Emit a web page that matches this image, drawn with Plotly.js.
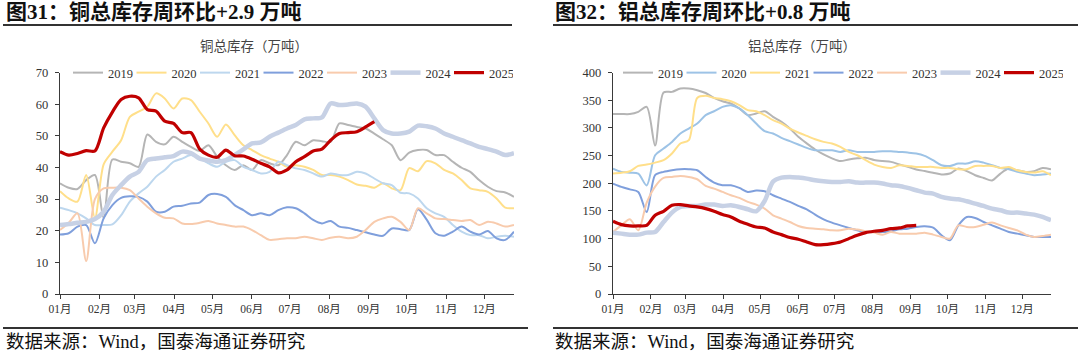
<!DOCTYPE html>
<html><head><meta charset="utf-8">
<script src="https://cdn.plot.ly/plotly-3.0.1.min.js"></script>
<style>html,body{margin:0;padding:0;background:#fff;}#chart{width:1080px;height:354px;}</style>
</head><body><div id="chart"></div>
<script>
// ---------- data ----------
const years = ['2019','2020','2021','2022','2023','2024','2025'];
const monthLabels = ['01月','02月','03月','04月','05月','06月','07月','08月','09月','10月','11月','12月'];

const titleCu = '<b>图31：铜总库存周环比+2.9 万吨</b>';
const titleAl = '<b>图32：铝总库存周环比+0.8 万吨</b>';
const subCu = '铜总库存（万吨）';
const subAl = '铝总库存（万吨）';
const sourceText = '数据来源：Wind，国泰海通证券研究';

// copper total inventory (10k t), weekly
const cu2019 = [35.0,33.6,33.2,36.0,37.6,24.0,42.5,41.8,41.3,40.2,50.4,48.1,47.3,49.7,48.1,46.5,45.2,47.0,43.4,40.7,39.2,40.7,39.2,42.3,41.3,40.7,43.9,48.1,47.0,48.6,48.3,48.1,53.9,53.4,52.8,52.3,50.7,48.9,47.0,42.3,44.7,45.5,45.5,43.9,43.9,41.8,39.9,38.6,36.0,33.9,32.5,32.1,30.7];
const cu2020 = [32.5,30.2,29.2,37.6,24.0,41.0,45.0,48.6,56.0,57.6,59.2,63.4,61.8,58.6,61.8,61.3,57.6,53.9,49.7,53.6,50.2,47.0,45.5,43.9,42.8,41.8,40.2,40.7,40.2,39.2,37.6,37.6,37.1,36.0,34.6,34.2,33.6,35.0,33.4,32.8,39.8,38.8,42.0,41.3,39.2,38.1,36.0,33.4,32.8,32.3,30.2,27.3,27.1];
const cu2021 = [27.3,26.5,25.5,23.9,21.8,21.8,22.0,24.9,29.2,31.8,33.9,37.1,39.2,41.8,42.8,43.9,42.8,41.3,40.2,41.8,42.3,40.2,39.2,38.1,38.6,41.8,40.7,39.7,39.2,38.1,37.1,38.1,37.6,37.6,38.6,38.1,36.5,35.0,34.4,32.0,31.8,30.2,27.1,25.5,24.4,21.8,19.7,18.6,18.6,17.6,18.1,18.4,18.1];
const cu2022 = [18.8,19.2,21.3,21.8,16.0,23.9,28.1,30.4,30.9,30.7,29.2,26.0,26.0,27.6,27.9,28.6,28.9,31.3,31.6,30.7,28.1,26.5,24.9,25.5,24.9,26.5,27.4,27.1,25.5,23.4,22.3,23.1,21.3,20.9,20.2,19.5,18.8,18.4,20.7,20.5,20.2,26.8,23.5,19.2,18.4,19.7,21.3,19.7,18.8,19.9,17.6,17.1,19.7];
const cu2023 = [20.2,22.5,25.5,10.4,30.0,33.4,33.6,33.6,32.8,30.2,27.6,25.5,24.1,23.9,22.3,22.1,22.5,23.1,22.3,21.8,21.3,21.3,20.2,18.6,17.1,17.3,17.6,17.6,18.1,17.6,17.1,17.8,18.1,17.6,18.1,20.2,22.8,23.9,24.4,22.8,20.2,27.1,25.5,23.9,23.7,23.4,23.1,23.4,21.8,22.8,22.3,21.3,21.8];
const cu2024 = [21.8,22.1,22.5,22.8,23.7,26.0,31.3,34.4,37.1,38.6,42.3,42.8,43.2,43.6,45.0,44.5,42.8,42.2,41.8,42.3,43.9,45.7,47.6,47.9,49.7,51.0,52.3,53.4,55.2,55.5,55.8,60.2,59.7,59.9,60.2,59.2,55.5,51.8,50.7,50.7,51.3,53.2,53.0,52.3,50.7,49.7,48.6,47.6,46.5,45.8,45.0,43.9,44.5];
const cu2025 = [45.0,43.9,44.4,45.3,45.2,52.5,57.5,61.5,62.5,62.0,58.3,57.8,54.6,53.9,51.0,51.0,45.8,43.9,43.2,45.5,43.7,43.6,42.6,41.3,40.2,38.3,39.2,41.8,43.4,45.2,45.8,48.6,50.7,51.0,51.3,52.8,54.5];

// aluminium total inventory (10k t), weekly
const al2019 = [325,325,325,329,338,268,364,365,371,371,368,363,354,348,344,335,323,326,330,320,311,299,284,272,261,252,245,240,243,245,246,242,240,238.6,234,229.5,225,222,219,216,217.5,226.5,222,214.5,209.6,205,217.5,226.5,223.5,220.5,221.7,227.7,225];
const al2020 = [226.5,220.5,219,217.5,196,250.6,262.6,274.7,289.8,298.8,307.8,323,330,338,341,335,323,307.8,294,289.8,282,276,270,263.9,259.6,259.6,259.6,256.6,259.6,256.6,256.6,256.6,257.8,257.8,256.6,255.4,253.6,249.4,241.6,232.5,231.3,235.5,235.5,239.8,237.3,232.5,227.7,225.3,220.5,217.5,214.5,215.7,217.5];
const al2021 = [217.5,219,221.7,231.3,233.7,237.3,241.6,253.6,271.7,277.7,354,357.8,354,351.8,348,341,332,330,323,313.9,307.8,298.8,291.6,285.5,279.5,274.7,271.7,265.7,256.6,250.6,241.6,233.7,229.5,227.7,232.5,231.3,229.5,229.5,229.5,227.7,227.7,225.3,225.3,231.3,231.3,231.3,227.7,229.5,223.5,220.5,219.3,221.7,214.5];
const al2022 = [199.4,193.4,189,184.3,148,214.5,220.5,223.5,225.3,225.3,223.5,211.4,201.2,196.4,196.4,191.6,184.3,187,185.5,178.3,172.3,166.3,159,153,143.4,134.9,128.9,124,119.3,115,112,112,112,113,116.9,118,121,122.3,119.9,106,97,124,139,137.3,130,124,118,112,109,106,103,103,103];
const al2023 = [112,124,135,115,165,194,209.6,211.4,213.2,211.4,207.2,195.2,190.4,184.3,178.3,173.5,166.3,161.5,154.2,142.2,136.1,130.1,122.9,119.3,118,116.9,115,115,118,116.3,113.3,110.8,107.2,112,109,109,109,110.8,107.2,103,100,124,121,121,125,129,124,119.3,115,107.2,103,104.8,107.2];
const al2024 = [110.8,109,107.2,107.2,110.8,112,130,147,157.2,159,159,161.5,161.5,159,160.2,157.2,153,149.4,168,203,210.2,211.4,210.2,208.4,205.4,203.6,202.4,202.4,203.6,201.2,201.2,201.2,199.4,196.4,195.2,191.6,187.3,183.1,181.3,175.3,172.3,171,167.5,163.2,159,154.2,151.2,147,147,145.2,143.4,139.2,133.1];
const al2025 = [131.3,125.3,122.9,122.9,124,142.2,149.4,160.2,161.5,159,157.2,154.2,149.4,143.4,139.2,131.3,125.9,121,119.3,112,107.2,102,99,94,89.2,89.2,91,94,100,106,110.8,113.3,115,118,119.3,122.9,124];

const cuSeries = [cu2019, cu2020, cu2021, cu2022, cu2023, cu2024, cu2025];
const alSeries = [al2019, al2020, al2021, al2022, al2023, al2024, al2025];

// ---------- styles ----------
const W = 1080, H = 354;
const FONT = '"Liberation Serif", "Noto Sans CJK SC", serif';
const GRAY = '#B5B5B5', YEL = '#FFDF8A', LBLUE = '#BDD7EE', LBLUE2 = '#9DC3E6', BLUE = '#7F9FDC', PEACH = '#F8CBAD', STEEL = '#C7D1E5', RED = '#C00000';
const cuColors = [GRAY, YEL, LBLUE, BLUE, PEACH, STEEL, RED];
const alColors = [GRAY, LBLUE2, YEL, BLUE, PEACH, STEEL, RED];
const widths = [2, 2, 2, 2, 2, 4.5, 3.2];

const SPAN = 357.4;               // days covered by the axis (Jan 1 .. ~Dec 24)
const weekX = n => Array.from({length: n}, (_, i) => i * SPAN / 52);
const monthStarts = Array.from({length: 12}, (_, m) => (Date.UTC(2021, m, 1) - Date.UTC(2021, 0, 1)) / 864e5);

const px = x => x / W;
const py = y => 1 - y / H;

const traces = [];
years.forEach((yr, k) => {
  traces.push({
    x: weekX(cuSeries[k].length), y: cuSeries[k], name: yr, type: 'scatter', mode: 'lines',
    line: {color: cuColors[k], width: widths[k], shape: 'spline', smoothing: 0.8},
    xaxis: 'x', yaxis: 'y', legend: 'legend', hoverinfo: 'skip'
  });
});
years.forEach((yr, k) => {
  traces.push({
    x: weekX(alSeries[k].length), y: alSeries[k], name: yr, type: 'scatter', mode: 'lines',
    line: {color: alColors[k], width: widths[k], shape: 'spline', smoothing: 0.8},
    xaxis: 'x2', yaxis: 'y2', legend: 'legend2', hoverinfo: 'skip'
  });
});

const axisCommon = {
  showline: true, linecolor: '#3a3a3a', linewidth: 1.3, mirror: false,
  ticks: 'outside', ticklen: 4, tickwidth: 1, tickcolor: '#3a3a3a',
  showgrid: false, zeroline: false, fixedrange: true,
  tickfont: {family: FONT, size: 12.5, color: '#333'}
};
const xCommon = Object.assign({}, axisCommon, {
  type: 'linear', range: [0, SPAN], tickmode: 'array', tickvals: monthStarts, ticktext: monthLabels,
  tickfont: {family: FONT, size: 11.5, color: '#333'}
});
const yDomain = [py(294), py(72.5)];

const legendCommon = {
  orientation: 'h', xanchor: 'left', yanchor: 'middle', y: py(73),
  font: {family: FONT, size: 12.5, color: '#333'}, bgcolor: 'rgba(0,0,0,0)',
  borderwidth: 0, itemwidth: 30, entrywidth: 18.5, entrywidthmode: 'pixels',
  itemclick: false, itemdoubleclick: false, traceorder: 'normal'
};

const ann = (text, x, y, size, opts) => Object.assign({
  text: text, xref: 'paper', yref: 'paper', x: px(x), y: py(y), showarrow: false,
  xanchor: 'left', yanchor: 'middle', font: {family: FONT, size: size, color: '#111'}
}, opts || {});

const layout = {
  width: W, height: H, margin: {l: 0, r: 0, t: 0, b: 0},
  paper_bgcolor: '#fff', plot_bgcolor: 'rgba(0,0,0,0)', showlegend: true,
  xaxis: Object.assign({}, xCommon, {domain: [px(60), px(514)], anchor: 'y'}),
  yaxis: Object.assign({}, axisCommon, {domain: yDomain, range: [0, 70], dtick: 10, anchor: 'x', ticklabelstandoff: 4}),
  xaxis2: Object.assign({}, xCommon, {domain: [px(613), px(1051)], anchor: 'y2'}),
  yaxis2: Object.assign({}, axisCommon, {domain: yDomain, range: [0, 400], dtick: 50, anchor: 'x2', ticklabelstandoff: 4}),
  legend: Object.assign({}, legendCommon, {x: px(68)}),
  legend2: Object.assign({}, legendCommon, {x: px(618)}),
  annotations: [
    ann(titleCu, 4, 12.5, 21),
    ann(titleAl, 553, 12.5, 21),
    ann(subCu, 253.5, 46, 13.5, {xanchor: 'center', font: {family: FONT, size: 13.5, color: '#444'}}),
    ann(subAl, 802, 46, 13.5, {xanchor: 'center', font: {family: FONT, size: 13.5, color: '#444'}}),
    ann(sourceText, 4, 342, 18.5),
    ann(sourceText, 553, 342, 18.5)
  ],
  shapes: [
    {type: 'line', xref: 'paper', yref: 'paper', x0: px(3), x1: px(512), y0: py(25), y1: py(25), line: {color: '#333', width: 2}},
    {type: 'line', xref: 'paper', yref: 'paper', x0: px(553), x1: px(1078), y0: py(25), y1: py(25), line: {color: '#333', width: 2}},
    {type: 'line', xref: 'paper', yref: 'paper', x0: px(3), x1: px(528), y0: py(328), y1: py(328), line: {color: '#333', width: 2}},
    {type: 'line', xref: 'paper', yref: 'paper', x0: px(553), x1: px(1078), y0: py(328), y1: py(328), line: {color: '#333', width: 2}}
  ]
};

Plotly.newPlot('chart', traces, layout, {staticPlot: true, displayModeBar: false});
</script>
</body></html>
